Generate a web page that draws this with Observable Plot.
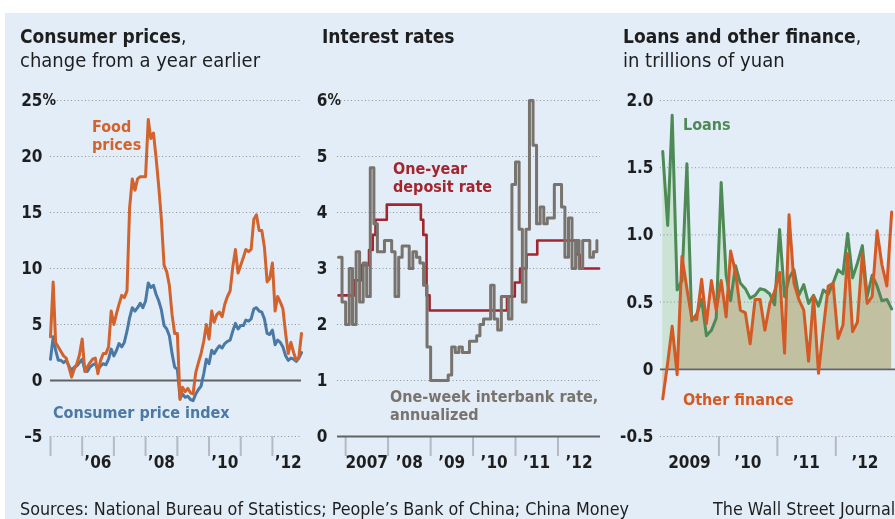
<!DOCTYPE html>
<html><head><meta charset="utf-8">
<script src="https://cdn.jsdelivr.net/npm/d3@7"></script>
<script src="https://cdn.jsdelivr.net/npm/@observablehq/plot@0.6"></script>
<style>
html,body{margin:0;padding:0;background:#fff;}
#root{position:relative;width:895px;height:519px;overflow:hidden;}
#bg{position:absolute;left:5px;top:13px;width:890px;height:506px;background:#e3edf8;}
.panel{position:absolute;top:80px;height:400px;}
#overlay{position:absolute;left:0;top:0;pointer-events:none;}
</style></head><body>
<div id="root"><div id="bg"></div>
<div id="p1" class="panel" style="left:0px;width:310px"></div>
<div id="p2" class="panel" style="left:310px;width:300px"></div>
<div id="p3" class="panel" style="left:610px;width:285px"></div>
<svg id="overlay" width="895" height="519"></svg>
</div>
<script>
// ---------- Data ----------
// Panel 1: consumer prices, % change from a year earlier, monthly Jan 2005 - Dec 2012
const foodPrices = [
  3.9, 8.8, 3.4, 3.0, 2.6, 2.2, 2.0, 1.2, 0.3, 1.0, 1.5, 2.3,
  3.7, 0.8, 1.2, 1.6, 1.9, 2.0, 0.6, 1.8, 2.4, 2.4, 3.0, 6.2,
  5.0, 6.0, 6.8, 7.6, 7.4, 8.0, 15.4, 18.0, 17.0, 18.0, 18.2, 18.2,
  18.2, 23.3, 21.6, 22.1, 19.9, 17.3, 14.4, 10.3, 9.7, 8.5, 5.9, 4.2,
  4.2, -1.7, -0.6, -1.0, -0.7, -1.1, -1.2, 0.7, 1.6, 2.4, 3.5, 5.0,
  3.7, 6.2, 5.2, 5.9, 6.1, 5.7, 6.8, 7.5, 8.0, 10.1, 11.7, 9.6,
  10.3, 11.0, 11.7, 11.5, 11.7, 14.4, 14.8, 13.4, 13.4, 11.9, 8.8, 9.1,
  10.5, 6.2, 7.5, 7.0, 6.4, 4.2, 2.4, 3.4, 2.5, 1.8, 2.1, 4.2
];
const consumerPriceIndex = [
  1.9, 3.9, 2.7, 1.8, 1.8, 1.6, 1.8, 1.3, 0.9, 1.2, 1.3, 1.6,
  1.9, 0.9, 0.8, 1.2, 1.4, 1.5, 1.0, 1.3, 1.5, 1.4, 1.9, 2.8,
  2.2, 2.7, 3.3, 3.0, 3.4, 4.4, 5.6, 6.5, 6.2, 6.5, 6.9, 6.5,
  7.1, 8.7, 8.3, 8.5, 7.7, 7.1, 6.3, 4.9, 4.6, 4.0, 2.4, 1.2,
  1.0, -1.6, -1.2, -1.5, -1.4, -1.7, -1.8, -1.2, -0.8, -0.5, 0.6, 1.9,
  1.5, 2.7, 2.4, 2.8, 3.1, 2.9, 3.3, 3.5, 3.6, 4.4, 5.1, 4.6,
  4.9, 4.9, 5.4, 5.3, 5.5, 6.4, 6.5, 6.2, 6.1, 5.5, 4.2, 4.1,
  4.5, 3.2, 3.6, 3.4, 3.0, 2.2, 1.8, 2.0, 1.9, 1.7, 2.0, 2.5
];
const cpYTicks = [-5, 0, 5, 10, 15, 20, 25];
const cpYLabels = ["\u20135", "0", "5", "10", "15", "20", "25"];
const cpYearTicks = ["2005", "2006", "2007", "2008", "2009", "2010", "2011", "2012"];
const cpXLabelYears = ["2006", "2008", "2010", "2012"];
const cpXLabels = ["\u201906", "\u201908", "\u201910", "\u201912"];

// Panel 2: interest rates, %
const depositDates = ["2006-11-01", "2007-03-18", "2007-05-19", "2007-07-21", "2007-08-22", "2007-09-15", "2007-12-21",
  "2008-10-09", "2008-10-30", "2008-11-27", "2008-12-23", "2010-10-20", "2010-12-26", "2011-02-09",
  "2011-04-06", "2011-07-07", "2012-06-08", "2012-07-06", "2012-12-20"];
const depositRate = [2.52, 2.79, 3.06, 3.33, 3.60, 3.87, 4.14, 3.87, 3.60, 2.52, 2.25, 2.50, 2.75, 3.00,
  3.25, 3.50, 3.25, 3.00, 3.00];
// One-week interbank rate, monthly Nov 2006 - Dec 2012
const interbankRate = [
  3.2, 2.4,
  2.0, 3.0, 2.0, 3.3, 2.4, 3.1, 2.5, 4.8, 3.8, 3.3, 3.3, 3.5,
  3.5, 3.3, 2.5, 3.2, 3.4, 3.4, 3.0, 3.3, 3.2, 3.1, 2.7, 1.6,
  1.0, 1.0, 1.0, 1.0, 1.0, 1.1, 1.6, 1.5, 1.6, 1.5, 1.5, 1.7,
  1.7, 1.8, 2.0, 2.1, 2.1, 2.7, 2.1, 1.9, 2.5, 2.5, 2.1, 4.5,
  4.9, 3.7, 2.4, 3.7, 6.0, 5.2, 3.8, 4.1, 3.8, 3.9, 3.9, 4.5,
  4.5, 4.1, 3.2, 3.9, 3.0, 3.5, 3.0, 3.5, 3.5, 3.2, 3.3, 3.5
];
const irYTicks = [0, 1, 2, 3, 4, 5, 6];
const irYearTicks = ["2007", "2008", "2009", "2010", "2011", "2012"];
const irXLabels = ["2007", "\u201908", "\u201909", "\u201910", "\u201911", "\u201912"];

// Panel 3: loans and other finance, trillions of yuan, monthly Jan 2009 - Dec 2012
const loans = [
  1.62, 1.07, 1.89, 0.59, 0.66, 1.53, 0.36, 0.41, 0.52, 0.25, 0.29, 0.38,
  1.39, 0.70, 0.51, 0.77, 0.64, 0.60, 0.53, 0.55, 0.60, 0.59, 0.56, 0.48,
  1.04, 0.54, 0.68, 0.74, 0.55, 0.63, 0.49, 0.55, 0.47, 0.59, 0.56, 0.64,
  0.74, 0.71, 1.01, 0.68, 0.79, 0.92, 0.54, 0.70, 0.62, 0.51, 0.52, 0.45
];
const otherFinance = [
  -0.22, 0.05, 0.32, -0.04, 0.84, 0.60, 0.38, 0.37, 0.67, 0.34, 0.66, 0.44,
  0.66, 0.39, 0.88, 0.72, 0.44, 0.42, 0.19, 0.52, 0.52, 0.29, 0.49, 0.58,
  0.72, 0.12, 1.15, 0.64, 0.52, 0.44, 0.06, 0.54, -0.03, 0.30, 0.62, 0.64,
  0.23, 0.33, 0.86, 0.28, 0.35, 0.86, 0.49, 0.54, 1.03, 0.78, 0.62, 1.17
];
const lfYTicks = [-0.5, 0, 0.5, 1.0, 1.5, 2.0];
const lfYLabels = ["-0.5", "0", "0.5", "1.0", "1.5", "2.0"];
const lfYearTicks = ["2010", "2011", "2012"];
const lfXLabelYears = ["2009", "2010", "2011", "2012"];
const lfXLabels = ["2009", "\u201910", "\u201911", "\u201912"];

// ---------- Styling ----------
const FONT = "'Liberation Sans Narrow','DejaVu Sans Condensed','Arial Narrow','Roboto',sans-serif";
const TXT = "#1e1e1e";
const GRID = {stroke: "#8e949b", strokeWidth: 1, strokeDasharray: "1,2.5"};
const ZERO = {stroke: "#626262", strokeWidth: 1.8};
const baseStyle = {background: "transparent", fontFamily: FONT, fontSize: "17px", color: TXT, overflow: "visible"};
const yearStart = y => new Date(`${y}-01-01`);
const midYear = y => new Date(`${y}-07-01`);

// ---------- Panel 1 ----------
const cpMonths = d3.utcMonth.range(new Date("2005-01-01"), new Date("2013-01-01"));
const cpRows = cpMonths.map((date, i) => ({date, food: foodPrices[i], cpi: consumerPriceIndex[i]}));
const p1 = Plot.plot({
  width: 310, height: 400, marginTop: 20, marginBottom: 44, marginLeft: 50, marginRight: 9,
  style: baseStyle,
  x: {type: "utc", domain: [new Date("2005-01-01"), new Date("2012-12-01")], axis: null},
  y: {domain: [-5, 25], axis: null},
  marks: [
    Plot.ruleY(cpYTicks.filter(v => v !== 0), GRID),
    Plot.ruleY([0], ZERO),
    Plot.axisX(cpYearTicks.map(yearStart), {tickSize: 20, tickFormat: () => "", stroke: "#b3bac3", strokeWidth: 2}),
    Plot.text(cpXLabelYears.map((y, i) => ({d: midYear(y), t: cpXLabels[i]})), {x: "d", text: "t", frameAnchor: "bottom", dy: 31, fontWeight: 600}),
    Plot.text(cpYTicks.map((v, i) => ({v, t: cpYLabels[i]})), {y: "v", text: "t", frameAnchor: "left", textAnchor: "end", dx: -8, fontWeight: 600}),
    Plot.text([25], {y: d => d, text: () => "%", frameAnchor: "left", textAnchor: "start", dx: -8, fontWeight: 600, fontSize: 15}),
    Plot.line(cpRows, {x: "date", y: "cpi", stroke: "#4a79a6", strokeWidth: 3}),
    Plot.line(cpRows, {x: "date", y: "food", stroke: "#d2632d", strokeWidth: 3})
  ]
});
document.getElementById("p1").append(p1);

// ---------- Panel 2 ----------
const irMonths = d3.utcMonth.range(new Date("2006-11-01"), new Date("2013-01-01"));
const interbankRows = irMonths.map((date, i) => ({date, rate: interbankRate[i]}));
const depositRows = depositDates.map((s, i) => ({date: new Date(s), rate: depositRate[i]}));
const p2 = Plot.plot({
  width: 300, height: 400, marginTop: 20, marginBottom: 44, marginLeft: 27, marginRight: 10,
  style: baseStyle,
  x: {type: "utc", domain: [new Date("2006-10-23"), new Date("2013-01-01")], axis: null},
  y: {domain: [0, 6], axis: null},
  marks: [
    Plot.ruleY(irYTicks.filter(v => v !== 0), GRID),
    Plot.axisX(irYearTicks.map(yearStart), {tickSize: 20, tickFormat: () => "", stroke: "#b3bac3", strokeWidth: 2}),
    Plot.ruleY([0], ZERO),
    Plot.text(irYearTicks.map((y, i) => ({d: midYear(y), t: irXLabels[i]})), {x: "d", text: "t", frameAnchor: "bottom", dy: 31, fontWeight: 600}),
    Plot.text(irYTicks, {y: d => d, text: d => String(d), frameAnchor: "left", textAnchor: "end", dx: -10, fontWeight: 600}),
    Plot.text([6], {y: d => d, text: () => "%", frameAnchor: "left", textAnchor: "start", dx: -10, fontWeight: 600, fontSize: 15}),
    Plot.line(depositRows, {x: "date", y: "rate", curve: "step-after", stroke: "#a3262f", strokeWidth: 2.6}),
    Plot.line(interbankRows, {x: "date", y: "rate", curve: "step-after", stroke: "#79736d", strokeWidth: 3})
  ]
});
document.getElementById("p2").append(p2);

// ---------- Panel 3 ----------
const lfMonths = d3.utcMonth.range(new Date("2009-01-01"), new Date("2013-01-01")).map(m => d3.utcDay.offset(m, 14));
const lfRows = lfMonths.map((date, i) => ({date, loans: loans[i], other: otherFinance[i]}));
const p3 = Plot.plot({
  width: 285, height: 400, marginTop: 20, marginBottom: 44, marginLeft: 50, marginRight: 0,
  style: baseStyle,
  x: {type: "utc", domain: [new Date("2009-01-01"), new Date("2013-01-08")], axis: null},
  y: {domain: [-0.5, 2], axis: null},
  marks: [
    Plot.areaY(lfRows, {x: "date", y1: 0, y2: "loans", fill: "#cbe3d4"}),
    Plot.areaY(lfRows, {x: "date", y1: 0, y2: "other", fill: "#f3d8c2", mixBlendMode: "multiply"}),
    Plot.ruleY(lfYTicks.filter(v => v !== 0), GRID),
    Plot.ruleY([0], ZERO),
    Plot.axisX(lfYearTicks.map(yearStart), {tickSize: 20, tickFormat: () => "", stroke: "#b3bac3", strokeWidth: 2}),
    Plot.text(lfXLabelYears.map((y, i) => ({d: midYear(y), t: lfXLabels[i]})), {x: "d", text: "t", frameAnchor: "bottom", dy: 31, fontWeight: 600}),
    Plot.text(lfYTicks.map((v, i) => ({v, t: lfYLabels[i]})), {y: "v", text: "t", frameAnchor: "left", textAnchor: "end", dx: -7, fontWeight: 600}),
    Plot.line(lfRows, {x: "date", y: "loans", stroke: "#4e8a56", strokeWidth: 3}),
    Plot.line(lfRows, {x: "date", y: "other", stroke: "#d45a25", strokeWidth: 3})
  ]
});
document.getElementById("p3").append(p3);

// ---------- Titles, annotations, footer ----------
const ov = d3.select("#overlay").style("font-family", FONT);
function txt(x, y, lines, opts = {}) {
  const arr = Array.isArray(lines) ? lines : [lines];
  const t = ov.append("text").attr("x", x).attr("y", y)
    .attr("font-size", opts.size || 18).attr("font-weight", opts.weight || "normal")
    .attr("fill", opts.fill || TXT);
  if (arr.length === 1) t.text(arr[0]);
  else arr.forEach((s, i) => t.append("tspan").attr("x", x).attr("dy", i ? (opts.lh || 18) : 0).text(s));
  return t;
}
const t1 = txt(20, 43, "Consumer prices", {weight: "bold", size: 19});
t1.append("tspan").attr("font-weight", "normal").text(",");
txt(20, 67, "change from a year earlier", {size: 20});
txt(322, 43, "Interest rates", {weight: "bold", size: 19});
const t3 = txt(623, 43, "Loans and other finance", {weight: "bold", size: 19});
t3.append("tspan").attr("font-weight", "normal").text(",");
txt(623, 67, "in trillions of yuan", {size: 20});

txt(92, 132, ["Food", "prices"], {weight: "bold", size: 16, fill: "#d2632d", lh: 18});
txt(53, 418, "Consumer price index", {weight: "bold", size: 16, fill: "#4a79a6"});
txt(393, 174, ["One-year", "deposit rate"], {weight: "bold", size: 16, fill: "#a3262f", lh: 18});
txt(390, 402, ["One-week interbank rate,", "annualized"], {weight: "bold", size: 16, fill: "#79736d", lh: 18});
txt(683, 130, "Loans", {weight: "bold", size: 16, fill: "#4e8a56"});
txt(683, 405, "Other finance", {weight: "bold", size: 16, fill: "#d45a25"});

txt(20, 515, "Sources: National Bureau of Statistics; People\u2019s Bank of China; China Money", {size: 17.8});
txt(713, 515, "The Wall Street Journal", {size: 17.8});
</script>
</body></html>
